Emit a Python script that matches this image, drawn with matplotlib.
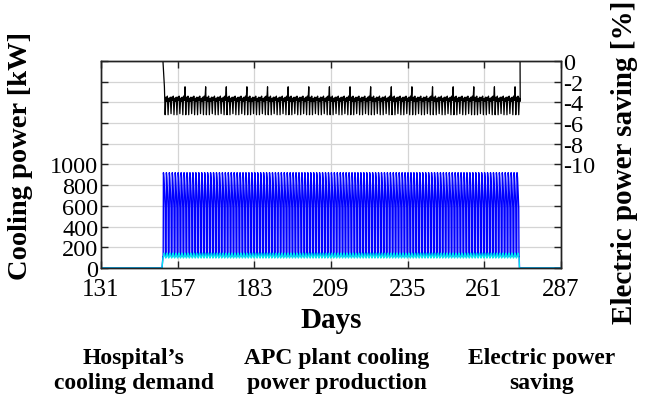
import matplotlib
matplotlib.use('Agg')
import matplotlib.pyplot as plt
import numpy as np

plt.rcParams['font.family'] = ['Liberation Serif', 'DejaVu Serif']

# time span of the simulation and of the cooling season
day_min, day_max = 131, 287
season_start, season_end = 152, 273
xtick_days = [131, 157, 183, 209, 235, 261, 287]

# daily profiles (12 samples per day, every 2 h)
apc_profile = [110, 110, 920, 900, 870, 820, 760, 700, 640, 580, 110, 110]
hospital_profile = [96, 100, 112, 128, 140, 144, 140, 134, 124, 112, 102, 96]

# weekly profile of the electric power saving (4 samples per day)
saving_week = [
    [-2.5, -5.2, -3.5, -3.9],
    [-3.4, -5.2, -3.6, -3.9],
    [-3.5, -5.1, -3.5, -3.8],
    [-3.4, -5.2, -3.6, -3.9],
    [-3.5, -5.2, -3.5, -3.8],
    [-3.4, -5.1, -3.6, -3.9],
    [-3.5, -5.2, -3.4, -3.8],
]

left_ticks = list(range(0, 2001, 200))
left_labels = [str(t) if t <= 1000 else '' for t in left_ticks]
right_ticks = list(range(-20, 1, 2))
right_labels = [str(t) if t >= -10 else '' for t in right_ticks]


def season_series(profile, days):
    n = len(profile)
    x = np.arange(days * n) / n + season_start
    y = np.tile(profile, days)
    return x, y


n_days = season_end - season_start
x_apc, y_apc = season_series(apc_profile, n_days)
x_hos, y_hos = season_series(hospital_profile, n_days)
week_flat = np.array(saving_week).ravel()
n_sav = n_days * 4
x_sav = np.arange(n_sav) / 4 + season_start + 0.5
y_sav = np.resize(week_flat, n_sav)

fig = plt.figure(figsize=(6.52, 4.02), dpi=100)
ax = fig.add_axes([0.155, 0.331, 0.705, 0.515])
ax2 = ax.twinx()

ax.plot(np.r_[day_min, season_start - 0.3, x_apc, season_end, day_max],
        np.r_[0, 0, y_apc, 0, 0], color='#0000ff', lw=1.0)
ax.plot(np.r_[day_min, season_start - 0.3, x_hos, season_end, day_max],
        np.r_[0, 0, y_hos, 0, 0], color='#00e8f0', lw=0.9)
ax2.plot(np.r_[day_min, season_start, x_sav, season_end + 0.2, day_max],
         np.r_[0, 0, y_sav, 0, 0], color='black', lw=0.9)

ax.set_xlim(day_min, day_max)
ax.set_ylim(0, 2000)
ax2.set_ylim(-20, 0)
ax.set_xticks(xtick_days)
ax.set_yticks(left_ticks)
ax.set_yticklabels(left_labels)
ax2.set_yticks(right_ticks)
ax2.set_yticklabels(right_labels)
ax.grid(True, color='#d4d4d4', lw=0.9)
ax.set_axisbelow(True)

ax.tick_params(axis='both', direction='in', length=5, width=1, colors='#222222',
               top=True, labelcolor='black', pad=2)
ax.tick_params(axis='x', labelsize=18, pad=7.5)
ax.tick_params(axis='y', labelsize=17.5, pad=2)
ax2.tick_params(axis='y', direction='in', length=5, width=1, colors='#222222',
                labelcolor='black', labelsize=17.5, pad=2)
for a in (ax, ax2):
    for s in a.spines.values():
        s.set_color('#222222')
        s.set_linewidth(1.0)

ax.set_xlabel('Days', fontsize=21, fontweight='bold')
ax.xaxis.set_label_coords(0.5, -0.185)
ax.set_ylabel('Cooling power [kW]', fontsize=20.5, fontweight='bold')
ax.yaxis.set_label_coords(-0.148, 0.546)
ax2.set_ylabel('Electric power saving [%]', fontsize=21, fontweight='bold')
ax2.yaxis.set_label_coords(1.11, 0.517)

fig.text(0.205, 0.077, "Hospital\u2019s\ncooling demand", ha='center', va='center',
         fontsize=17, fontweight='bold', linespacing=1.2)
fig.text(0.517, 0.077, "APC plant cooling\npower production", ha='center', va='center',
         fontsize=17, fontweight='bold', linespacing=1.2)
fig.text(0.83, 0.077, "Electric power\nsaving", ha='center', va='center',
         fontsize=17, fontweight='bold', linespacing=1.2)

fig.savefig('out.png', dpi=100)
